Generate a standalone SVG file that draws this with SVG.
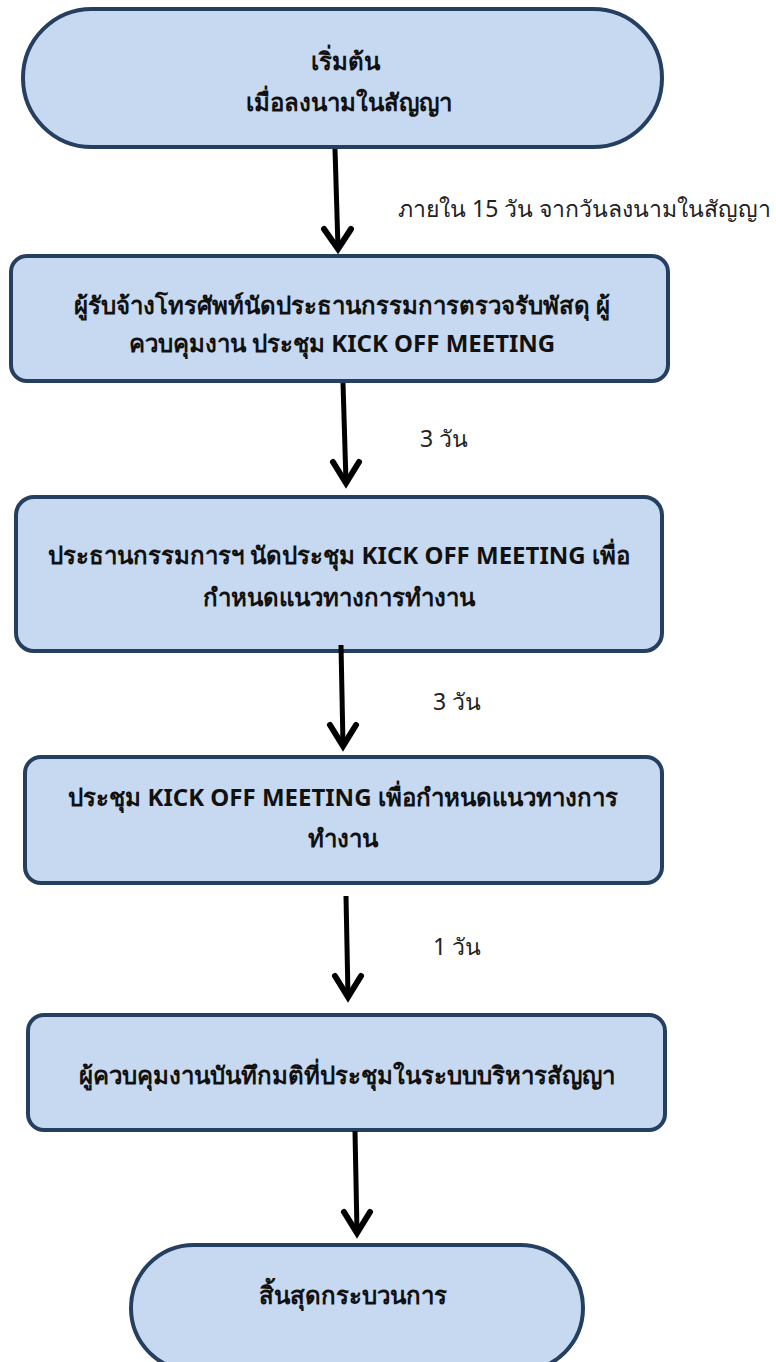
<svg xmlns="http://www.w3.org/2000/svg" width="776" height="1362" viewBox="0 0 776 1362">
  <style>
    .node { fill: #c6d9f1; stroke: #243f60; stroke-width: 4; }
    .txt { font-family: "Noto Sans", "Liberation Sans", sans-serif; font-size: 24px; font-weight: bold; fill: #111; text-anchor: middle; }
    .lbl { font-family: "Noto Sans", "Liberation Sans", sans-serif; font-size: 23px; fill: #222; }
    .wire { fill: none; stroke: #000; stroke-width: 5; }
    .head { fill: none; stroke: #000; stroke-width: 6; stroke-linecap: round; stroke-linejoin: miter; }
  </style>
  <rect width="776" height="1362" fill="#fff"/>

  <g id="start">
    <rect class="node" x="23" y="9" width="639" height="138" rx="69" ry="69"/>
    <text class="txt" x="345" y="70">เริ่มต้น</text>
    <text class="txt" x="349" y="111">เมื่อลงนามในสัญญา</text>
  </g>

  <g id="step1">
    <rect class="node" x="11" y="256" width="657" height="125" rx="16" ry="16"/>
    <text class="txt" x="342" y="314">ผู้รับจ้างโทรศัพท์นัดประธานกรรมการตรวจรับพัสดุ ผู้</text>
    <text class="txt" x="342" y="352">ควบคุมงาน ประชุม KICK OFF MEETING</text>
  </g>

  <g id="step2">
    <rect class="node" x="16" y="497" width="646" height="154" rx="18" ry="18"/>
    <text class="txt" x="339" y="564">ประธานกรรมการฯ นัดประชุม KICK OFF MEETING เพื่อ</text>
    <text class="txt" x="339" y="606">กำหนดแนวทางการทำงาน</text>
  </g>

  <g id="step3">
    <rect class="node" x="25" y="757" width="637" height="126" rx="16" ry="16"/>
    <text class="txt" x="343" y="806">ประชุม KICK OFF MEETING เพื่อกำหนดแนวทางการ</text>
    <text class="txt" x="343" y="847">ทำงาน</text>
  </g>

  <g id="step4">
    <rect class="node" x="28" y="1015" width="637" height="115" rx="16" ry="16"/>
    <text class="txt" x="347" y="1084">ผู้ควบคุมงานบันทึกมติที่ประชุมในระบบบริหารสัญญา</text>
  </g>

  <g id="end">
    <rect class="node" x="131" y="1245" width="452" height="126" rx="63" ry="63"/>
    <text class="txt" x="353" y="1304">สิ้นสุดกระบวนการ</text>
  </g>

  <g id="connectors">
    <line class="wire" x1="335" y1="149" x2="338" y2="248"/>
    <polyline class="head" points="324,229 338,249 351,229"/>
    <text class="lbl" x="398" y="217">ภายใน 15 วัน จากวันลงนามในสัญญา</text>

    <line class="wire" x1="343" y1="383" x2="346" y2="482"/>
    <polyline class="head" points="333,462 346,483 359,462"/>
    <text class="lbl" x="420" y="447">3 วัน</text>

    <line class="wire" x1="341" y1="645" x2="343" y2="745"/>
    <polyline class="head" points="330,725 343,746 356,725"/>
    <text class="lbl" x="433" y="710">3 วัน</text>

    <line class="wire" x1="346" y1="896" x2="348" y2="996"/>
    <polyline class="head" points="335,976 348,997 361,976"/>
    <text class="lbl" x="433" y="955">1 วัน</text>

    <line class="wire" x1="355" y1="1131" x2="357" y2="1232"/>
    <polyline class="head" points="344,1212 357,1233 370,1212"/>
  </g>
</svg>
